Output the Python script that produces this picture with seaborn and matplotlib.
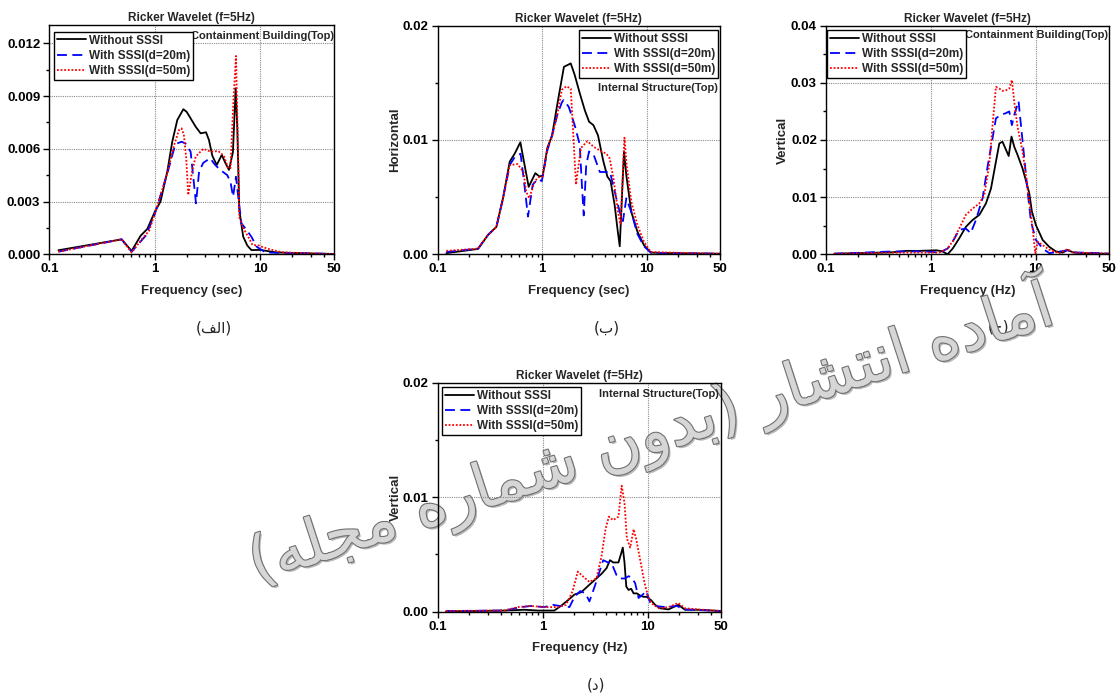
import matplotlib
matplotlib.use("Agg")
import matplotlib.pyplot as plt
import matplotlib.patheffects as pe
from matplotlib.ticker import FixedLocator, LogLocator, MultipleLocator, FormatStrFormatter, NullFormatter
import seaborn as sns

# ---------------- data ----------------
series_labels = ["Without SSSI", "With SSSI(d=20m)", "With SSSI(d=50m)"]
x_tick_values = [0.1, 1, 10, 50]
x_tick_labels = ["0.1", "1", "10", "50"]
panel_titles = ["Ricker Wavelet (f=5Hz)"] * 4
panel_notes = ["Containment Building(Top)", "Internal Structure(Top)",
               "Containment Building(Top)", "Internal Structure(Top)"]
panel_xlabels = ["Frequency (sec)", "Frequency (sec)", "Frequency (Hz)", "Frequency (Hz)"]
panel_ylabels = ["", "Horizontal", "Vertical", "Vertical"]
panel_tags = ["(\uFED2\uFEDF\uFE8D)", "(\uFE8F)", "(\uFE9D)", "(\uFEA9)"]   # (الف) (ب) (ج) (د)
panel_ymax = [0.01304, 0.02, 0.04, 0.02]
panel_ystep = [0.003, 0.01, 0.01, 0.01]
panel_yfmt = ["%.3f", "%.2f", "%.2f", "%.2f"]
watermark = ("(\uFEEA\uFEE0\uFEA0\uFEE3 \uFEE9\uFEAD\uFE8E\uFEE4\uFEB7 \uFEE5\uFEED\uFEAA\uFE91) "
             "\uFEAD\uFE8E\uFEB8\uFE98\uFEE7\uFE8D \uFEE9\uFEA9\uFE8E\uFEE3\uFE81")  # آماده انتشار (بدون شماره مجله)

# Panel 1 - Containment Building, horizontal
p1_f_wo = [0.122, 0.484, 0.602, 0.733, 0.847, 1.0, 1.13, 1.31, 1.46, 1.63, 1.86, 2.0, 2.18, 2.43, 2.71,
           3.05, 3.25, 3.5, 3.85, 4.3, 4.67, 5.03, 5.48, 5.82, 6.03, 6.3, 6.86, 7.5, 8.2, 10.0, 13.9,
           20.0, 33.0, 50.0]
p1_a_wo = [0.00023, 0.00085, 0.00019, 0.00106, 0.00144, 0.00243, 0.0030, 0.0047, 0.0064, 0.00764, 0.00825,
           0.0081, 0.00773, 0.00726, 0.00688, 0.00694, 0.0065, 0.0056, 0.00508, 0.00565, 0.00517, 0.0048,
           0.0058, 0.00944, 0.0072, 0.0025, 0.0010, 0.0005, 0.00024, 0.00025, 0.00011, 0.00008, 0.00004,
           0.00002]
p1_f_20 = [0.122, 0.484, 0.602, 0.82, 1.0, 1.31, 1.52, 1.61, 1.79, 1.95, 2.18, 2.45, 2.62, 2.87, 3.33,
           3.7, 4.15, 4.85, 5.2, 5.5, 5.86, 6.2, 6.6, 7.4, 8.2, 9.2, 11.2, 16.0, 50.0]
p1_a_20 = [0.00015, 0.00085, 0.00015, 0.00106, 0.0023, 0.0046, 0.006, 0.0063, 0.0064, 0.0063, 0.00583,
           0.0029, 0.0047, 0.0052, 0.00546, 0.0051, 0.0048, 0.0045, 0.0041, 0.00328, 0.00441, 0.0031,
           0.00176, 0.00138, 0.0010, 0.00043, 0.0001, 0.00008, 0.00002]
p1_f_50 = [0.122, 0.484, 0.602, 0.76, 0.88, 1.0, 1.31, 1.52, 1.69, 1.79, 1.88, 1.98, 2.07, 2.25, 2.43,
           2.87, 3.37, 3.98, 4.5, 4.95, 5.2, 5.5, 5.86, 6.1, 6.3, 7.0, 7.65, 8.4, 9.7, 10.3, 12.0, 16.0,
           33.0, 50.0]
p1_a_50 = [0.00015, 0.00085, 0.0001, 0.0009, 0.00133, 0.00233, 0.0046, 0.0062, 0.00707, 0.00716, 0.0068,
           0.00546, 0.00337, 0.0047, 0.00555, 0.0060, 0.00584, 0.00587, 0.0056, 0.00489, 0.0049, 0.0083,
           0.01128, 0.0065, 0.0021, 0.0014, 0.0010, 0.00053, 0.0005, 0.00043, 0.0003, 0.00011, 0.00004,
           0.00002]

# Panel 2 - Internal Structure, horizontal
p2_f_wo = [0.121, 0.243, 0.303, 0.364, 0.421, 0.488, 0.544, 0.617, 0.668, 0.741, 0.858, 0.94, 1.01, 1.118,
           1.24, 1.39, 1.61, 1.87, 2.04, 2.28, 2.55, 2.8, 3.08, 3.41, 3.82, 4.19, 4.5, 4.92, 5.22, 5.5,
           6.04, 6.36, 7.1, 8.1, 9.37, 10.9, 16.8, 50.0]
p2_a_wo = [0.0001, 0.00047, 0.0017, 0.0024, 0.0049, 0.0081, 0.0088, 0.0098, 0.0081, 0.0059, 0.0071, 0.0068,
           0.0069, 0.0093, 0.0104, 0.0131, 0.0164, 0.0167, 0.0157, 0.0141, 0.0126, 0.0116, 0.0113, 0.0104,
           0.0082, 0.0068, 0.0064, 0.0043, 0.0023, 0.0007, 0.0090, 0.0069, 0.0037, 0.0020, 0.0008, 0.00015,
           0.0001, 0.00005]
p2_f_20 = [0.121, 0.243, 0.303, 0.364, 0.421, 0.488, 0.544, 0.62, 0.668, 0.73, 0.81, 0.91, 0.99, 1.118,
           1.24, 1.39, 1.54, 1.6, 1.79, 2.04, 2.28, 2.39, 2.49, 2.63, 2.8, 3.1, 3.55, 3.96, 4.44, 4.92,
           5.5, 5.9, 6.36, 7.1, 8.1, 9.37, 10.9, 16.8, 50.0]
p2_a_20 = [0.0002, 0.0005, 0.0017, 0.0024, 0.0049, 0.0078, 0.0085, 0.0088, 0.0064, 0.0033, 0.0061, 0.0066,
           0.0064, 0.0091, 0.0104, 0.0122, 0.0133, 0.0135, 0.0129, 0.0113, 0.0096, 0.0061, 0.0034, 0.0078,
           0.0090, 0.0087, 0.0072, 0.0072, 0.0072, 0.0055, 0.0037, 0.0029, 0.0049, 0.0037, 0.0018, 0.0007,
           0.00015, 0.0001, 0.00005]
p2_f_50 = [0.121, 0.243, 0.303, 0.364, 0.421, 0.488, 0.58, 0.661, 0.7, 0.75, 0.846, 0.94, 1.01, 1.118,
           1.24, 1.39, 1.54, 1.7, 1.87, 1.94, 2.1, 2.2, 2.34, 2.7, 3.1, 3.67, 4.1, 4.4, 4.8, 5.3, 5.6,
           6.1, 6.4, 7.1, 8.1, 9.37, 10.9, 16.8, 50.0]
p2_a_50 = [0.0003, 0.0005, 0.0017, 0.0024, 0.0049, 0.0078, 0.0079, 0.0072, 0.0055, 0.0049, 0.0064, 0.0068,
           0.0068, 0.0093, 0.0103, 0.0122, 0.0144, 0.0147, 0.0145, 0.0119, 0.0061, 0.0075, 0.0093, 0.0099,
           0.0094, 0.0090, 0.0088, 0.0084, 0.0066, 0.0037, 0.0026, 0.0102, 0.0078, 0.0046, 0.0026, 0.0011,
           0.0002, 0.00015, 0.00005]

# Panel 3 - Containment Building, vertical
p3_f_wo = [0.12, 0.43, 0.58, 0.77, 1.13, 1.29, 1.44, 1.61, 1.86, 2.15, 2.49, 2.89, 3.34, 3.73, 4.1, 4.48,
           4.8, 5.18, 5.5, 5.85, 6.22, 6.68, 7.46, 8.0, 8.64, 9.15, 10.0, 11.6, 13.4, 15.5, 18.0, 20.0,
           22.5, 27.8, 50.0]
p3_a_wo = [0.0001, 0.00035, 0.0006, 0.0006, 0.0007, 0.0005, 0.0, 0.001, 0.0028, 0.0048, 0.006, 0.0069,
           0.0089, 0.0115, 0.0156, 0.0194, 0.0197, 0.0183, 0.0172, 0.0206, 0.0188, 0.0174, 0.015, 0.013,
           0.0107, 0.0075, 0.0051, 0.0025, 0.0013, 0.0005, 0.0003, 0.00076, 0.00035, 0.0002, 0.0001]
p3_f_20 = [0.12, 0.43, 0.89, 1.2, 1.44, 1.61, 1.86, 2.15, 2.39, 2.68, 3.1, 3.48, 3.86, 4.16, 4.64, 5.18,
           5.57, 5.9, 6.22, 6.83, 7.2, 7.75, 8.33, 8.97, 10.0, 11.6, 13.4, 20.0, 22.5, 30.0, 50.0]
p3_a_20 = [0.0001, 0.0005, 0.0005, 0.0003, 0.001, 0.0022, 0.0043, 0.0045, 0.0037, 0.006, 0.0098, 0.0156,
           0.0203, 0.0238, 0.0244, 0.0247, 0.025, 0.0226, 0.0244, 0.0268, 0.0226, 0.0168, 0.011, 0.0057,
           0.0025, 0.001, 0.0002, 0.0007, 0.0003, 0.0003, 0.0001]
p3_f_50 = [0.12, 0.43, 0.89, 1.2, 1.44, 1.61, 1.86, 2.15, 2.49, 2.89, 3.22, 3.59, 3.86, 4.16, 4.48, 4.8,
           5.18, 5.57, 5.9, 6.22, 6.68, 7.46, 8.0, 8.64, 9.3, 9.86, 10.4, 11.6, 13.4, 16.7, 20.0, 22.5, 50.0]
p3_a_50 = [0.0001, 0.0003, 0.0003, 0.0003, 0.001, 0.0023, 0.0045, 0.0069, 0.008, 0.0089, 0.0104, 0.0156,
           0.0226, 0.0293, 0.029, 0.0286, 0.0287, 0.029, 0.0305, 0.0267, 0.0223, 0.018, 0.0139, 0.0092,
           0.0045, 0.0002, 0.0022, 0.0016, 0.0008, 0.0002, 0.0009, 0.0003, 0.0001]

# Panel 4 - Internal Structure, vertical
p4_f_wo = [0.12, 0.43, 0.67, 0.9, 1.29, 1.49, 1.74, 2.01, 2.33, 2.6, 2.9, 3.25, 3.63, 4.06, 4.38, 4.7,
           5.27, 5.6, 5.8, 6.02, 6.26, 6.58, 6.97, 7.35, 7.9, 8.5, 9.14, 9.8, 10.8, 11.8, 13.1, 15.8, 19.6,
           22.7, 30.3, 50.0]
p4_a_wo = [0.00003, 0.0001, 0.00017, 0.0001, 0.0001, 0.0005, 0.001, 0.0015, 0.0017, 0.0021, 0.0025, 0.0029,
           0.0033, 0.0038, 0.0045, 0.0043, 0.0043, 0.0051, 0.0056, 0.0043, 0.0022, 0.0019, 0.002, 0.0016,
           0.0016, 0.0014, 0.0013, 0.0013, 0.001, 0.0006, 0.0003, 0.0002, 0.0006, 0.00017, 0.00017, 0.00006]
p4_f_20 = [0.12, 0.43, 0.62, 0.77, 1.04, 1.25, 1.45, 1.62, 1.8, 2.01, 2.28, 2.56, 2.79, 3.13, 3.37, 3.77,
           4.2, 4.5, 5.05, 5.45, 6.02, 6.58, 7.0, 7.6, 8.2, 9.0, 9.65, 10.6, 11.9, 14.7, 18.9, 22.7, 50.0]
p4_a_20 = [0.00006, 0.0001, 0.0004, 0.0005, 0.0004, 0.0006, 0.0005, 0.0005, 0.0004, 0.0013, 0.0018, 0.0016,
           0.0009, 0.0022, 0.0031, 0.0045, 0.0043, 0.0043, 0.0032, 0.0029, 0.0029, 0.0031, 0.003, 0.0025,
           0.0012, 0.0015, 0.0018, 0.0008, 0.0005, 0.0004, 0.0005, 0.0002, 0.00006]
p4_f_50 = [0.12, 0.43, 0.58, 0.77, 1.04, 1.39, 1.67, 1.93, 2.16, 2.41, 2.79, 3.25, 3.63, 3.97, 4.27, 4.7,
           5.27, 5.66, 6.02, 6.34, 6.82, 7.35, 7.8, 8.5, 9.35, 10.2, 11.0, 12.8, 15.8, 19.6, 22.7, 30.3, 50.0]
p4_a_50 = [0.00006, 0.0001, 0.0004, 0.0005, 0.0004, 0.0004, 0.0006, 0.0018, 0.0035, 0.0031, 0.0026, 0.0029,
           0.0048, 0.0072, 0.0083, 0.008, 0.0083, 0.011, 0.0095, 0.0064, 0.0056, 0.0072, 0.0063, 0.0045,
           0.0025, 0.0012, 0.0007, 0.0003, 0.0004, 0.00076, 0.0003, 0.0002, 0.00006]

panel_series = [
    [(p1_f_wo, p1_a_wo), (p1_f_20, p1_a_20), (p1_f_50, p1_a_50)],
    [(p2_f_wo, p2_a_wo), (p2_f_20, p2_a_20), (p2_f_50, p2_a_50)],
    [(p3_f_wo, p3_a_wo), (p3_f_20, p3_a_20), (p3_f_50, p3_a_50)],
    [(p4_f_wo, p4_a_wo), (p4_f_20, p4_a_20), (p4_f_50, p4_a_50)],
]

# ---------------- style ----------------
sns.set_style("white")
plt.rcParams["font.family"] = ["Liberation Sans", "DejaVu Sans"]
plt.rcParams["font.weight"] = "bold"
plt.rcParams["axes.labelweight"] = "bold"
plt.rcParams["axes.titleweight"] = "bold"

W, H = 1117, 694
fig = plt.figure(figsize=(W / 100, H / 100), dpi=100)


def box(l, t, r, b):
    return [l / W, 1 - b / H, (r - l) / W, (b - t) / H]


axes_boxes = [box(49.3, 25, 334.3, 254.3), box(437.7, 25.7, 720, 254.3),
              box(826, 25.7, 1109.3, 254.3), box(437.7, 382.7, 721, 611.7)]
leg_locs = ["upper left", "upper right", "upper left", "upper left"]
leg_anchor = [(0.0165, 0.971), (0.993, 0.981), (0.0035, 0.981), (0.015, 0.981)]
note_xy = [(1.0, 0.952), (0.993, 0.727), (0.997, 0.959), (0.9925, 0.949)]
ylabel_x = [None, -0.13, -0.131, -0.126]
tag_xy = [(214, 328), (607, 328), (999, 328), (596, 685)]

colors = ["black", "#0000ff", "#ff0000"]
styles = ["-", (0, (5.5, 3.0)), (0, (1.0, 1.0))]

all_axes = []
for i in range(4):
    ax = fig.add_axes(axes_boxes[i])
    all_axes.append(ax)
    for (f, a), lab, c, ls in zip(panel_series[i], series_labels, colors, styles):
        sns.lineplot(x=f, y=a, ax=ax, color=c, linestyle=ls, linewidth=1.3,
                     label=lab, estimator=None, sort=False)
    ax.set_xscale("log")
    ax.set_xlim(0.1, 50)
    ax.set_ylim(0, panel_ymax[i])
    ax.xaxis.set_major_locator(FixedLocator(x_tick_values))
    ax.set_xticklabels(x_tick_labels)
    ax.xaxis.set_minor_locator(LogLocator(base=10, subs=range(2, 10)))
    ax.xaxis.set_minor_formatter(NullFormatter())
    ax.yaxis.set_major_locator(MultipleLocator(panel_ystep[i]))
    ax.yaxis.set_minor_locator(MultipleLocator(panel_ystep[i] / 2))
    ax.yaxis.set_major_formatter(FormatStrFormatter(panel_yfmt[i]))
    ax.grid(True, which="major", color="#8a8a8a", linestyle=(0, (1, 1)), linewidth=0.8)
    ax.tick_params(which="both", direction="out", top=False, right=False, bottom=True, left=True,
                   labelsize=9.5, width=1.0, colors="black")
    ax.tick_params(which="major", length=4, pad=2.5)
    ax.tick_params(which="minor", length=2.5)
    for s in ax.spines.values():
        s.set_color("black")
        s.set_linewidth(1.0)
        s.set_visible(True)
    ax.set_title(panel_titles[i], fontsize=8.5, pad=3)
    ax.set_xlabel(panel_xlabels[i], fontsize=9.5)
    ax.xaxis.set_label_coords(0.5, -0.133)
    if panel_ylabels[i]:
        ax.set_ylabel(panel_ylabels[i], fontsize=9.5)
        ax.yaxis.set_label_coords(ylabel_x[i], 0.5)
    else:
        ax.set_ylabel("")
    leg = ax.legend(loc=leg_locs[i], bbox_to_anchor=leg_anchor[i], borderaxespad=0.0,
                    frameon=True, fancybox=False, framealpha=1, edgecolor="black",
                    fontsize=8.5, handlelength=2.5, labelspacing=0.26, borderpad=0.25,
                    handletextpad=0.2)
    leg.get_frame().set_linewidth(1.0)
    ax.text(note_xy[i][0], note_xy[i][1], panel_notes[i], transform=ax.transAxes,
            ha="right", va="center", fontsize=8.0, zorder=1)
    fig.text(tag_xy[i][0] / W, 1 - tag_xy[i][1] / H, panel_tags[i], ha="center", va="center",
             fontsize=11, fontweight="normal", family=["DejaVu Sans"], zorder=1)

# bottom panel sits above the watermark (transparent background)
all_axes[3].set_zorder(20)
all_axes[3].patch.set_alpha(0.0)

# watermark
fig.text(650 / W, 1 - 432 / H, watermark, rotation=18, ha="center", va="center",
         rotation_mode="anchor", fontsize=45, fontweight="normal", family=["DejaVu Sans"],
         color="#d6d6d6", zorder=10,
         path_effects=[pe.SimplePatchShadow(offset=(1.5, -1.5), shadow_rgbFace="#9a9a9a", alpha=0.7),
                       pe.Stroke(linewidth=1.6, foreground="#707070"), pe.Normal()])

fig.savefig("out.png", dpi=100)
